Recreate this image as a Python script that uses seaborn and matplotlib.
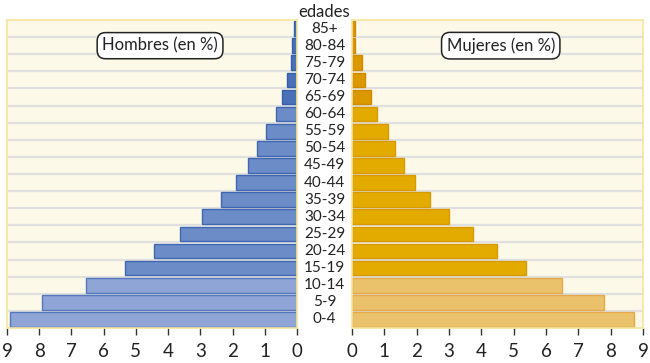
import numpy as np
import pandas as pd
import matplotlib
matplotlib.use('Agg')
import matplotlib.pyplot as plt
import matplotlib.transforms as mtransforms
import seaborn as sns

# datos (de mayor a menor edad, como se ve de arriba a abajo)
edades = ['85+', '80-84', '75-79', '70-74', '65-69', '60-64', '55-59', '50-54',
          '45-49', '40-44', '35-39', '30-34', '25-29', '20-24', '15-19',
          '10-14', '5-9', '0-4']
hombres = [0.08, 0.15, 0.2, 0.32, 0.48, 0.65, 0.95, 1.23, 1.53, 1.9, 2.35,
           2.95, 3.63, 4.45, 5.34, 6.55, 7.9, 8.9]
mujeres = [0.08, 0.1, 0.3, 0.41, 0.6, 0.77, 1.1, 1.33, 1.61, 1.95, 2.4,
           2.99, 3.73, 4.5, 5.37, 6.48, 7.79, 8.72]
ticks = list(range(10))

# grupos: 65+ / 15-64 / 0-14
grupo = ['mayores'] * 5 + ['adultos'] * 10 + ['jovenes'] * 3
col_h = {'mayores': '#4a70b8', 'adultos': '#6b8cc7', 'jovenes': '#8fa5d6'}
borde_h = {'mayores': '#3360ad', 'adultos': '#3f66b0', 'jovenes': '#5577bb'}
col_m = {'mayores': '#dc9800', 'adultos': '#e3ab00', 'jovenes': '#eac26b'}
borde_m = {'mayores': '#d08a00', 'adultos': '#d89a00', 'jovenes': '#e5a84a'}

df = pd.DataFrame({'edad': edades, 'hombres': hombres, 'mujeres': mujeres, 'grupo': grupo})

sns.set_style('white')
plt.rcParams['font.family'] = ['Lato', 'DejaVu Sans']

W, H = 650, 363
fig = plt.figure(figsize=(W / 100, H / 100), dpi=100)
fondo = '#fdf9e9'
amarillo = '#f6e49c'

def px(x0, y0, x1, y1):
    return [x0 / W, 1 - y1 / H, (x1 - x0) / W, (y1 - y0) / H]

ax_h = fig.add_axes(px(7, 20, 297, 328))
ax_m = fig.add_axes(px(352, 20, 643, 328))

for ax, col, cmap, bmap in [(ax_h, 'hombres', col_h, borde_h), (ax_m, 'mujeres', col_m, borde_m)]:
    ax.set_facecolor(fondo)
    for i in range(len(edades) - 1):
        ax.axhline(i + 0.5, color='#e0e0e0', lw=1.6, zorder=0.5)
    sns.barplot(data=df, x=col, y='edad', hue='edad', order=edades,
                palette=[cmap[g] for g in grupo], legend=False,
                width=0.86, ax=ax, zorder=2, saturation=1)
    for bar, g in zip(ax.patches, grupo):
        bar.set_edgecolor(bmap[g])
        bar.set_linewidth(1.0)
    ax.set_xlim(0, 9)
    ax.set_ylim(len(edades) - 0.5, -0.5)
    ax.set_xticks(ticks)
    ax.set_xticklabels([str(t) for t in ticks], fontsize=13.5, color='#222222')
    ax.set_yticks([])
    ax.set_xlabel('')
    ax.set_ylabel('')
    ax.tick_params(axis='x', bottom=True, length=5, width=1, color='#333333', pad=6)
    for s in ax.spines.values():
        s.set_color(amarillo)
        s.set_linewidth(1.2)

ax_h.invert_xaxis()

caja = dict(boxstyle='round,pad=0.3,rounding_size=0.5', fc='white', ec='#222222', lw=1.1)
ax_h.text(4.25, 1, 'Hombres (en %)', ha='center', va='center', fontsize=12,
          color='#222222', bbox=caja, zorder=5)
ax_m.text(4.6, 1, 'Mujeres (en %)', ha='center', va='center', fontsize=12,
          color='#222222', bbox=caja, zorder=5)

# etiquetas de edad en el centro
tr = mtransforms.blended_transform_factory(fig.transFigure, ax_m.transData)
for i, e in enumerate(edades):
    fig.text(324.5 / W, i, e, transform=tr, ha='center', va='center',
             fontsize=11, color='#222222')
fig.text(324.5 / W, 1 - 12 / H, 'edades', ha='center', va='center',
         fontsize=12, color='#222222')

fig.savefig('out.png', dpi=100, facecolor='white')
